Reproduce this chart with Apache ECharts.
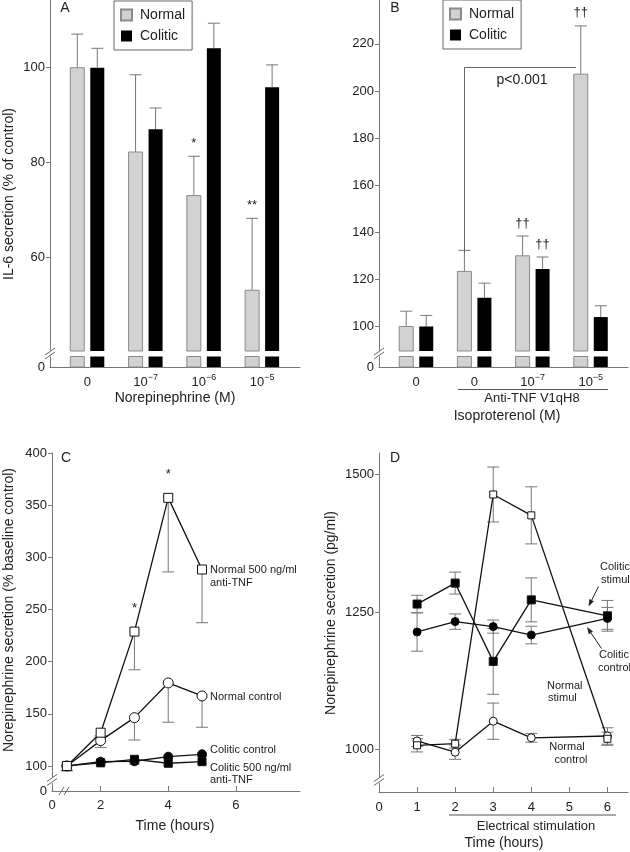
<!DOCTYPE html>
<html><head><meta charset="utf-8">
<script src="https://cdn.jsdelivr.net/npm/echarts@6/dist/echarts.min.js"></script>
<style>html,body{margin:0;padding:0;background:#fff}#c{width:630px;height:852px}</style>
</head><body><div id="c"></div>
<script>
// ---------- DATA ----------
// Panel A: IL-6 secretion (% of control), norepinephrine
const catsA = ['0', '10^-7', '10^-6', '10^-5'];
const normalA = [100, 82.2, 73.0, 53.0];
const normalAErr = [7.1, 16.3, 8.3, 15.2];
const coliticA = [100, 87.0, 104.1, 95.9];
const coliticAErr = [4.1, 4.5, 5.3, 4.7];
const normalASig = ['', '', '*', '**'];
const coliticASig = ['', '', '', ''];
const yTicksA = [60, 80, 100];

// Panel B: isoproterenol
const catsB = ['0', '0', '10^-7', '10^-5'];
const normalB = [100, 123.4, 130.0, 207.1];
const normalBErr = [6.5, 8.9, 8.4, 20.5];
const coliticB = [100, 112.2, 124.4, 104.0];
const coliticBErr = [4.7, 6.2, 5.1, 4.8];
const normalBSig = ['', '', '††', '††'];
const coliticBSig = ['', '', '††', ''];
const yTicksB = [100, 120, 140, 160, 180, 200, 220];

// Panel C: norepinephrine secretion (% baseline control)
const hoursC = [1, 2, 3, 4, 5];
const normAntiC = [100, 131.9, 228.8, 357.0, 288.3];
const normAntiCErr = [4.5, 3, 36.6, 71, 51];
const normAntiCSig = ['', '', '*', '*', ''];
const normCtrlC = [100, 124.3, 146.3, 179.6, 167.1];
const normCtrlCErr = [4.5, 6.7, 21.4, 37.7, 30];
const colCtrlC = [100, 104.1, 104.5, 108.9, 111.2];
const colCtrlCErr = [4.5, 2, 3, 2, 2];
const colAntiC = [100, 103.0, 106.4, 102.6, 104.1];
const colAntiCErr = [4.5, 2, 3, 2, 2];
const yTicksC = [100, 150, 200, 250, 300, 350, 400];
const xTicksC = [2, 4, 6];

// Panel D: norepinephrine secretion (pg/ml)
const hoursD = [1, 2, 3, 4, 6];
const normStimD = [1007, 1010, 1464, 1426, 1019];
const normStimDErr = [12, 8, 50, 52, 12];
const normCtrlD = [1015, 994.5, 1051, 1020.7, 1024];
const normCtrlDErr = [10, 13, 33, 8, 15];
const colStimD = [1264.4, 1302.6, 1160, 1272, 1243];
const colStimDErr = [16, 20, 60, 40, 28];
const colCtrlD = [1213.5, 1232.4, 1223.3, 1208, 1238.3];
const colCtrlDErr = [35, 14, 12, 16, 20];
const yTicksD = [1000, 1250, 1500];
const xTicksD = [1, 2, 3, 4, 5, 6];

// ---------- STYLE / LAYOUT ----------
const FONT = 'Liberation Sans, Arial, sans-serif';
const TXT = '#222';
const AX = '#777';
const yMinA = 36.8, yMaxA = 114.3;
const yMinB = 82.8, yMaxB = 238.6;
const yMinC = 76, yMaxC = 400;
const yMinD = 922, yMaxD = 1539.6;
const xMinC = 0.56, xMaxC = 7.9;

function supLabel(s) {
  if (s.indexOf('^') < 0) return '{b|' + s + '}';
  const parts = s.split('^');
  return '{b|' + parts[0] + '}{s|' + parts[1].replace('-', '\u2212') + '}';
}
const supRich = {
  b: { fontSize: 13, lineHeight: 16, verticalAlign: 'bottom', fontFamily: FONT, color: TXT },
  s: { fontSize: 9, lineHeight: 9, verticalAlign: 'top', fontFamily: FONT, color: TXT }
};

function barRender(off, fill, stroke, sig) {
  return function (params, api) {
    const cs = params.coordSys;
    const x = api.value(0), v = api.value(1), e = api.value(2);
    const p = api.coord([x, v]);
    const pe = api.coord([x, v + e]);
    const base = cs.y + cs.height;
    const cx = p[0] + off, w = 14;
    const st = stroke ? { fill: fill, stroke: stroke, lineWidth: 1 } : { fill: fill };
    const ch = [
      { type: 'line', shape: { x1: cx, y1: p[1], x2: cx, y2: pe[1] }, style: { stroke: AX, lineWidth: 1 } },
      { type: 'line', shape: { x1: cx - 6, y1: pe[1], x2: cx + 6, y2: pe[1] }, style: { stroke: AX, lineWidth: 1 } },
      { type: 'rect', shape: { x: cx - w / 2, y: p[1], width: w, height: base - 16 - p[1] }, style: st },
      { type: 'rect', shape: { x: cx - w / 2, y: base - 10.5, width: w, height: 10.5 }, style: st }
    ];
    const s = sig[params.dataIndex];
    if (s) ch.push({ type: 'text', style: { text: s, x: cx, y: pe[1] - 13, align: 'center', verticalAlign: 'middle', fontSize: 13, fontFamily: FONT, fill: TXT } });
    return { type: 'group', children: ch };
  };
}

function errRender(up, capW, sig) {
  return function (params, api) {
    const x = api.value(0), v = api.value(1), e = api.value(2);
    const pc = api.coord([x, v]);
    const lo = api.coord([x, v - e]);
    const hi = up ? api.coord([x, v + e]) : pc;
    const ch = [
      { type: 'line', shape: { x1: pc[0], y1: lo[1], x2: pc[0], y2: hi[1] }, style: { stroke: AX, lineWidth: 1 } },
      { type: 'line', shape: { x1: pc[0] - capW / 2, y1: lo[1], x2: pc[0] + capW / 2, y2: lo[1] }, style: { stroke: AX, lineWidth: 1 } }
    ];
    if (up) ch.push({ type: 'line', shape: { x1: pc[0] - capW / 2, y1: hi[1], x2: pc[0] + capW / 2, y2: hi[1] }, style: { stroke: AX, lineWidth: 1 } });
    const s = sig ? sig[params.dataIndex] : '';
    if (s) ch.push({ type: 'text', style: { text: s, x: pc[0], y: pc[1] - 23, align: 'center', verticalAlign: 'middle', fontSize: 13, fontFamily: FONT, fill: TXT } });
    return { type: 'group', children: ch };
  };
}

const zip = (xs, ys, es) => xs.map((x, i) => es ? [x, ys[i], es[i]] : [x, ys[i]]);
const idx = (arr) => arr.map((_, i) => i + 1);

function yAxisCfg(grid, min, max, ticks, zeroLabel) {
  return {
    type: 'value', gridIndex: grid, min: min, max: max,
    axisLine: { show: true, lineStyle: { color: AX, width: 1 } },
    axisTick: { show: true, inside: false, length: 4, customValues: ticks, lineStyle: { color: AX } },
    axisLabel: {
      customValues: zeroLabel ? [min].concat(ticks) : ticks,
      formatter: (v) => (v === min ? '0' : String(v)),
      fontSize: 13, fontFamily: FONT, color: TXT, margin: 5
    },
    splitLine: { show: false }
  };
}

function lineSeries(name, grid, xs, ys, symbol, size, fill) {
  return {
    type: 'line', name: name, xAxisIndex: grid, yAxisIndex: grid, data: zip(xs, ys),
    symbol: symbol, symbolSize: size, z: 3,
    lineStyle: { color: '#111', width: 1.3 },
    itemStyle: { color: fill, borderColor: '#111', borderWidth: 1 },
    emphasis: { disabled: true }, silent: true
  };
}
function errSeries(grid, xs, ys, es, up, cap, sig) {
  return {
    type: 'custom', xAxisIndex: grid, yAxisIndex: grid, data: zip(xs, ys, es), z: 2,
    renderItem: errRender(up, cap, sig), silent: true
  };
}

// ---------- CHART ----------
const chart = echarts.init(document.getElementById('c'), null, { renderer: 'canvas' });

function txt(text, x, y, opt) {
  opt = opt || {};
  return {
    type: 'text', x: x, y: y, rotation: opt.rot || 0, z: 100,
    style: { text: text, x: 0, y: 0, align: opt.align || 'center', verticalAlign: 'middle',
      fontSize: opt.size || 14, fontFamily: FONT, fill: TXT }
  };
}
function seg(x1, y1, x2, y2, color, w) {
  return { type: 'line', z: 100, shape: { x1: x1, y1: y1, x2: x2, y2: y2 }, style: { stroke: color || '#555', lineWidth: w || 1 } };
}
function brkY(x, y) {
  return [
    { type: 'rect', z: 99, shape: { x: x - 3, y: y - 3, width: 6, height: 6 }, style: { fill: '#fff' } },
    seg(x - 5, y + 1.5, x + 5, y - 5.5, '#666'),
    seg(x - 5, y + 5.5, x + 5, y - 1.5, '#666')
  ];
}
function arrow(x1, y1, x2, y2) {
  const dx = x2 - x1, dy = y2 - y1, L = Math.hypot(dx, dy);
  const ux = dx / L, uy = dy / L, px = -uy, py = ux;
  const bx = x2 - ux * 7, by = y2 - uy * 7;
  return [
    seg(x1, y1, bx, by, '#222'),
    { type: 'polygon', z: 100, shape: { points: [[x2, y2], [bx + px * 2.5, by + py * 2.5], [bx - px * 2.5, by - py * 2.5]] }, style: { fill: '#222' } }
  ];
}

const graphics = [].concat(
  [
    txt('A', 65, 8), txt('B', 395, 8), txt('C', 66, 458), txt('D', 395, 458),
    txt('IL-6 secretion (% of control)', 9, 194, { rot: Math.PI / 2 }),
    txt('Norepinephrine (M)', 175, 398),
    txt('Anti-TNF V1qH8', 532, 398, { size: 13 }),
    seg(458, 389.5, 608, 389.5, '#555'),
    txt('Isoproterenol (M)', 507, 416),
    seg(464.5, 67.5, 464.5, 253, '#666'), seg(464.5, 67.5, 576, 67.5, '#666'),
    txt('p<0.001', 522, 80),
    txt('Norepinephrine secretion (% baseline control)', 9, 610, { rot: Math.PI / 2 }),
    txt('Time (hours)', 175, 826),
    txt('Normal 500 ng/ml', 210, 570, { align: 'left', size: 11 }),
    txt('anti-TNF', 210, 583, { align: 'left', size: 11 }),
    txt('Normal control', 210, 697, { align: 'left', size: 11 }),
    txt('Colitic control', 210, 750, { align: 'left', size: 11 }),
    txt('Colitic 500 ng/ml', 210, 767.5, { align: 'left', size: 11 }),
    txt('anti-TNF', 210, 779.5, { align: 'left', size: 11 }),
    txt('Norepinephrine secretion (pg/ml)', 331, 613, { rot: Math.PI / 2 }),
    txt('Colitic', 600, 567, { align: 'left', size: 11 }),
    txt('stimul', 601, 580, { align: 'left', size: 11 }),
    txt('Colitic', 599, 655, { align: 'left', size: 11 }),
    txt('control', 598, 667.5, { align: 'left', size: 11 }),
    txt('Normal', 547, 686, { align: 'left', size: 11 }),
    txt('stimul', 548, 698, { align: 'left', size: 11 }),
    txt('Normal', 567, 747, { size: 11 }),
    txt('control', 571, 759.5, { size: 11 }),
    seg(449, 815, 616, 815, '#555'),
    txt('Electrical stimulation', 536, 826, { size: 13 }),
    txt('Time (hours)', 504, 843)
  ],
  arrow(598.5, 586.5, 588.5, 606.5),
  arrow(601.5, 648.5, 587, 627),
  brkY(50, 353.5), brkY(379, 353.5), brkY(52, 780), brkY(379, 780),
  [seg(59, 795, 64, 787, '#666'), seg(64, 795, 69, 787, '#666')]
);

const legendBase = {
  orient: 'vertical', data: ['Normal', 'Colitic'], icon: 'rect',
  itemWidth: 11, itemHeight: 11, itemGap: 7, padding: [7, 7, 7, 6],
  borderColor: '#666', borderWidth: 1, selectedMode: false,
  textStyle: { fontSize: 14, fontFamily: FONT, color: TXT, padding: [0, 0, 0, 3] }
};

const option = {
  animation: false,
  backgroundColor: '#fff',
  textStyle: { fontFamily: FONT },
  legend: [
    Object.assign({}, legendBase, { left: 114, top: 1 }),
    Object.assign({}, legendBase, { left: 443, top: 0 })
  ],
  grid: [
    { left: 50, top: 0, width: 250, height: 367 },
    { left: 379, top: 0, width: 249, height: 367 },
    { left: 52, top: 453, width: 248, height: 338 },
    { left: 379, top: 453, width: 249, height: 339 }
  ],
  xAxis: [
    { type: 'value', gridIndex: 0, min: 0.36, max: 4.65,
      axisLine: { lineStyle: { color: AX } }, axisTick: { show: false }, splitLine: { show: false },
      axisLabel: { customValues: idx(catsA), formatter: (v) => supLabel(catsA[v - 1]), rich: supRich, margin: 6 } },
    { type: 'value', gridIndex: 1, min: 0.36, max: 4.64,
      axisLine: { lineStyle: { color: AX } }, axisTick: { show: false }, splitLine: { show: false },
      axisLabel: { customValues: idx(catsB), formatter: (v) => supLabel(catsB[v - 1]), rich: supRich, margin: 6 } },
    { type: 'value', gridIndex: 2, min: xMinC, max: xMaxC,
      axisLine: { lineStyle: { color: AX } }, splitLine: { show: false },
      axisTick: { inside: true, length: 5, customValues: xTicksC, lineStyle: { color: AX } },
      axisLabel: { customValues: [xMinC].concat(xTicksC), formatter: (v) => (v === xMinC ? '0' : String(v)),
        fontSize: 13, fontFamily: FONT, color: TXT, margin: 8 } },
    { type: 'value', gridIndex: 3, min: 0, max: 6.54,
      axisLine: { lineStyle: { color: AX } }, splitLine: { show: false },
      axisTick: { inside: true, length: 5, customValues: xTicksD, lineStyle: { color: AX } },
      axisLabel: { customValues: [0].concat(xTicksD), formatter: (v) => String(v),
        fontSize: 13, fontFamily: FONT, color: TXT, margin: 9 } }
  ],
  yAxis: [
    yAxisCfg(0, yMinA, yMaxA, yTicksA, true),
    yAxisCfg(1, yMinB, yMaxB, yTicksB, true),
    yAxisCfg(2, yMinC, yMaxC, yTicksC, true),
    yAxisCfg(3, yMinD, yMaxD, yTicksD, false)
  ],
  series: [
    { type: 'custom', name: 'Normal', xAxisIndex: 0, yAxisIndex: 0, data: zip(idx(catsA), normalA, normalAErr),
      renderItem: barRender(-10, '#d2d2d2', '#8a8a8a', normalASig), itemStyle: { color: '#d2d2d2', borderColor: '#8a8a8a', borderWidth: 1 }, silent: true },
    { type: 'custom', name: 'Colitic', xAxisIndex: 0, yAxisIndex: 0, data: zip(idx(catsA), coliticA, coliticAErr),
      renderItem: barRender(10, '#000', null, coliticASig), itemStyle: { color: '#000' }, silent: true },
    { type: 'custom', name: 'Normal', xAxisIndex: 1, yAxisIndex: 1, data: zip(idx(catsB), normalB, normalBErr),
      renderItem: barRender(-10, '#d2d2d2', '#8a8a8a', normalBSig), itemStyle: { color: '#d2d2d2', borderColor: '#8a8a8a', borderWidth: 1 }, silent: true },
    { type: 'custom', name: 'Colitic', xAxisIndex: 1, yAxisIndex: 1, data: zip(idx(catsB), coliticB, coliticBErr),
      renderItem: barRender(10, '#000', null, coliticBSig), itemStyle: { color: '#000' }, silent: true },

    errSeries(2, hoursC, normAntiC, normAntiCErr, false, 12, normAntiCSig),
    errSeries(2, hoursC, normCtrlC, normCtrlCErr, false, 12),
    errSeries(2, hoursC, colCtrlC, colCtrlCErr, false, 10),
    errSeries(2, hoursC, colAntiC, colAntiCErr, false, 10),
    lineSeries('Colitic control', 2, hoursC, colCtrlC, 'circle', 9, '#000'),
    lineSeries('Colitic 500 ng/ml anti-TNF', 2, hoursC, colAntiC, 'rect', 8, '#000'),
    lineSeries('Normal control', 2, hoursC, normCtrlC, 'circle', 10, '#fff'),
    lineSeries('Normal 500 ng/ml anti-TNF', 2, hoursC, normAntiC, 'rect', 9, '#fff'),

    errSeries(3, hoursD, normStimD, normStimDErr, true, 12),
    errSeries(3, hoursD, normCtrlD, normCtrlDErr, true, 12),
    errSeries(3, hoursD, colStimD, colStimDErr, true, 12),
    errSeries(3, hoursD, colCtrlD, colCtrlDErr, true, 12),
    lineSeries('Colitic stimul', 3, hoursD, colStimD, 'rect', 8, '#000'),
    lineSeries('Colitic control D', 3, hoursD, colCtrlD, 'circle', 8, '#000'),
    lineSeries('Normal control D', 3, hoursD, normCtrlD, 'circle', 8, '#fff'),
    lineSeries('Normal stimul', 3, hoursD, normStimD, 'rect', 7, '#fff')
  ],
  graphic: { elements: graphics }
};
chart.setOption(option);
</script>
</body></html>
